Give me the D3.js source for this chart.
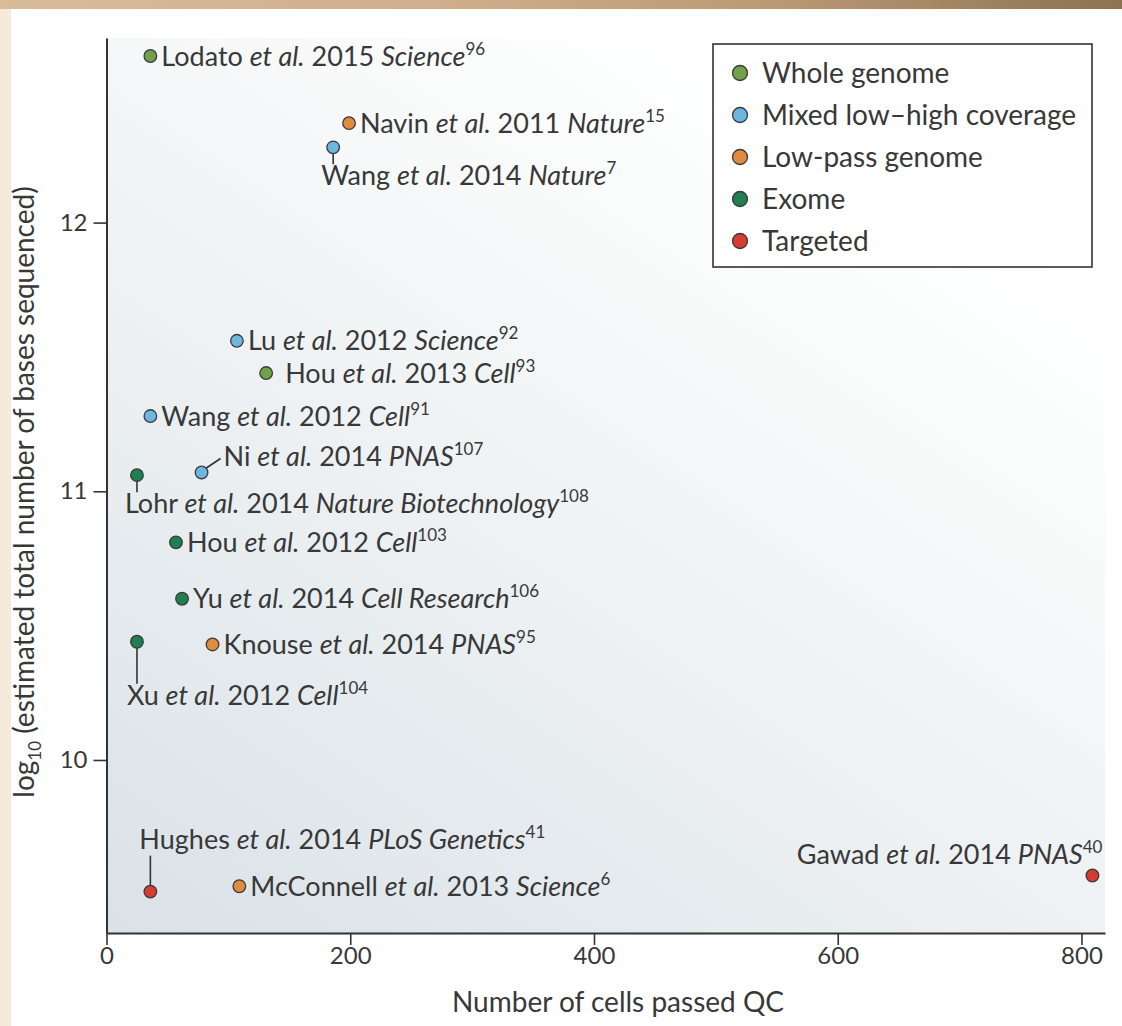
<!DOCTYPE html>
<html>
<head>
<meta charset="utf-8">
<script src="https://cdn.jsdelivr.net/npm/d3@7"></script>
<style>
  body { margin: 0; background: #fff; }
  svg text { font-family: Lato, "Noto Sans", sans-serif; fill: #383838; }
</style>
</head>
<body>
<div id="chart"></div>
<script>
// sequencing strategies (legend order)
const categories = ["Whole genome", "Mixed low\u2013high coverage", "Low-pass genome", "Exome", "Targeted"];

// one entry per study
const authors  = ["Lodato", "Navin", "Wang", "Lu", "Hou", "Wang", "Ni", "Lohr", "Hou", "Yu", "Xu", "Knouse", "Hughes", "McConnell", "Gawad"];
const years    = [2015, 2011, 2014, 2012, 2013, 2012, 2014, 2014, 2012, 2014, 2012, 2014, 2014, 2013, 2014];
const journals = ["Science", "Nature", "Nature", "Science", "Cell", "Cell", "PNAS", "Nature Biotechnology", "Cell", "Cell Research", "Cell", "PNAS", "PLoS Genetics", "Science", "PNAS"];
const refs     = [96, 15, 7, 92, 93, 91, 107, 108, 103, 106, 104, 95, 41, 6, 40];
const cellsPassedQC = [36, 199, 186, 107, 131, 36, 78, 25, 57, 62, 25, 87, 36, 109, 809];
const log10Bases    = [12.62, 12.37, 12.28, 11.56, 11.44, 11.28, 11.07, 11.06, 10.81, 10.6, 10.44, 10.43, 9.51, 9.53, 9.57];
const seqType  = [0, 2, 1, 1, 0, 1, 1, 3, 3, 3, 3, 2, 4, 2, 4];

const xTicks = [0, 200, 400, 600, 800];
const yTicks = [10, 11, 12];

// styling, kept apart from the data
const colors = ["#73a04a", "#6db6df", "#e08c3e", "#1f7f50", "#d63c30"];
const labelPlacement = ["right", "right", "below", "right", "rightWide", "right", "diag", "below",
                        "right", "right", "belowLong", "right", "above", "right", "aboveLeft"];

const width = 1122, height = 1026;
const plot = {left: 106.5, right: 1105, top: 38, bottom: 933};

const svg = d3.select('#chart').append('svg')
    .attr('width', width)
    .attr('height', height);

const defs = svg.append('defs');
// shading runs from the lower left corner up towards the top
const bg = defs.append('linearGradient')
    .attr('id', 'plotBg')
    .attr('gradientUnits', 'userSpaceOnUse')
    .attr('x1', plot.left).attr('y1', plot.bottom)
    .attr('x2', plot.left + 594).attr('y2', plot.top);
bg.append('stop').attr('offset', '0%').attr('stop-color', '#dae2e7');
bg.append('stop').attr('offset', '50%').attr('stop-color', '#edf1f3');
bg.append('stop').attr('offset', '78%').attr('stop-color', '#f8fafa');
bg.append('stop').attr('offset', '100%').attr('stop-color', '#ffffff');

const strip = defs.append('linearGradient').attr('id', 'topStrip');
strip.append('stop').attr('offset', '0%').attr('stop-color', '#d9bc9a');
strip.append('stop').attr('offset', '40%').attr('stop-color', '#cfae8c');
strip.append('stop').attr('offset', '70%').attr('stop-color', '#b99874');
strip.append('stop').attr('offset', '100%').attr('stop-color', '#8d7350');

// photo edge of the scanned page
svg.append('rect').attr('x', 0).attr('y', 0).attr('width', 11).attr('height', height).attr('fill', '#f6ebdb');
svg.append('rect').attr('x', 0).attr('y', 0).attr('width', width).attr('height', 9).attr('fill', 'url(#topStrip)');

let x = d3.scaleLinear()
    .domain([0, 819.3])
    .range([plot.left, plot.right]);

let y = d3.scaleLinear()
    .domain([9.356, 12.687])
    .range([plot.bottom, plot.top]);

svg.append('rect')
    .attr('x', plot.left).attr('y', plot.top)
    .attr('width', plot.right - plot.left)
    .attr('height', plot.bottom - plot.top)
    .attr('fill', 'url(#plotBg)');

let xAxis = svg.append('g')
    .attr('transform', `translate(0,${plot.bottom})`)
    .call(d3.axisBottom(x).tickValues(xTicks).tickSize(12).tickSizeOuter(0).tickPadding(2));

let yAxis = svg.append('g')
    .attr('transform', `translate(${plot.left},0)`)
    .call(d3.axisLeft(y).tickValues(yTicks).tickFormat(d3.format('d')).tickSize(13).tickSizeOuter(0).tickPadding(6));

[xAxis, yAxis].forEach(a => {
  a.select('.domain').attr('stroke', '#333').attr('stroke-width', 2);
  a.selectAll('.tick line').attr('stroke', '#333').attr('stroke-width', 1.6);
  a.selectAll('.tick text')
      .style('font-family', 'Lato, "Noto Sans", sans-serif')
      .style('font-size', '24px')
      .attr('fill', '#383838');
});

// axis titles
svg.append('text')
    .attr('x', 618)
    .attr('y', 1012)
    .attr('text-anchor', 'middle')
    .style('font-size', '28px')
    .text('Number of cells passed QC');

let yTitle = svg.append('text')
    .attr('transform', `translate(34,${492}) rotate(-90)`)
    .attr('text-anchor', 'middle')
    .style('font-size', '28px');
yTitle.append('tspan').text('log');
yTitle.append('tspan').attr('dy', 7).style('font-size', '17px').text('10');
yTitle.append('tspan').attr('dy', -7).text(' (estimated total number of bases sequenced)');

// studies
let studies = authors.map((a, i) => ({
  author: a, year: years[i], journal: journals[i], ref: refs[i],
  cells: cellsPassedQC[i], bases: log10Bases[i], type: seqType[i], place: labelPlacement[i]
}));

let g = svg.selectAll('g.study')
  .data(studies)
  .enter().append('g')
    .attr('class', 'study')
    .attr('transform', d => `translate(${x(d.cells)},${y(d.bases)})`);

// leader lines
const leaders = {
  below:     [0, 6, 0, 17],
  belowLong: [0, 6, 0, 42],
  above:     [0, -6, 0, -36],
  diag:      [4, -4, 19, -14]
};
g.filter(d => leaders[d.place])
  .append('line')
    .attr('x1', d => leaders[d.place][0]).attr('y1', d => leaders[d.place][1])
    .attr('x2', d => leaders[d.place][2]).attr('y2', d => leaders[d.place][3])
    .attr('stroke', '#333')
    .attr('stroke-width', 1.6);

g.append('circle')
    .attr('r', 6.3)
    .attr('fill', d => colors[d.type])
    .attr('stroke', '#3a3a3a')
    .attr('stroke-width', 1.3);

const labelPos = {
  right:     {dx: 11,  dy: 9.5,  anchor: 'start'},
  rightWide: {dx: 19,  dy: 9.5,  anchor: 'start'},
  below:     {dx: -12, dy: 38,   anchor: 'start'},
  belowLong: {dx: -10, dy: 63,   anchor: 'start'},
  above:     {dx: -11, dy: -43,  anchor: 'start'},
  diag:      {dx: 22,  dy: -6,   anchor: 'start'},
  aboveLeft: {dx: 10,  dy: -12,  anchor: 'end'}
};

let label = g.append('text')
    .attr('x', d => labelPos[d.place].dx)
    .attr('y', d => labelPos[d.place].dy)
    .attr('text-anchor', d => labelPos[d.place].anchor)
    .style('font-size', '27px');

label.append('tspan').text(d => d.author + ' ');
label.append('tspan').style('font-style', 'italic').text('et al.');
label.append('tspan').text(d => ' ' + d.year + ' ');
label.append('tspan').style('font-style', 'italic').text(d => d.journal);
label.append('tspan').attr('dy', -11).style('font-size', '17px').text(d => d.ref);

// legend
let legend = svg.append('g').attr('transform', 'translate(713,44)');
legend.append('rect')
    .attr('width', 379).attr('height', 223)
    .attr('fill', '#fff')
    .attr('stroke', '#333')
    .attr('stroke-width', 1.6);

let item = legend.selectAll('g.item')
  .data(categories)
  .enter().append('g')
    .attr('class', 'item')
    .attr('transform', (d, i) => `translate(27,${29 + i * 42})`);

item.append('circle')
    .attr('r', 7.5)
    .attr('fill', (d, i) => colors[i])
    .attr('stroke', '#3a3a3a')
    .attr('stroke-width', 1.3);

item.append('text')
    .attr('x', 22)
    .attr('y', 10)
    .style('font-size', '28px')
    .text(d => d);
</script>
</body>
</html>
